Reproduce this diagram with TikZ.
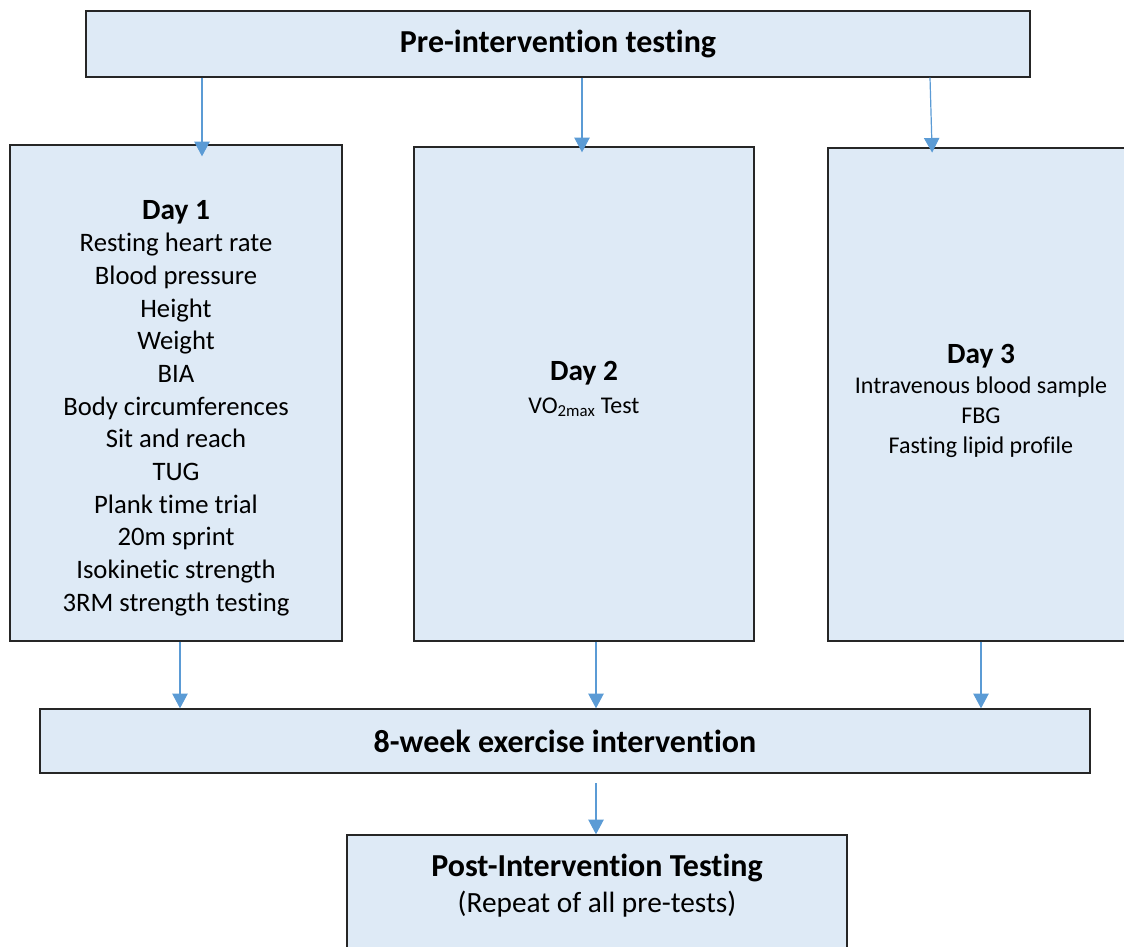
\documentclass[tikz,border=0pt]{standalone}
\usepackage{fontspec}
\setmainfont{Carlito}[Ligatures=NoCommon]
\usetikzlibrary{arrows.meta,fit}
\definecolor{boxfill}{RGB}{222,234,246}
\definecolor{flowblue}{RGB}{91,155,213}
\tikzset{
	box/.style={draw=black!85, line width=1pt, fill=boxfill, inner sep=0pt},
	flow/.style={draw=flowblue, line width=0.9pt, -{Triangle[width=11.5pt,length=11pt]}},
	headtxt/.style={font=\fontsize{24}{29}\selectfont\bfseries, inner sep=0pt},
	daytxt/.style={align=center, inner sep=0pt}
}
\begin{document}
\begin{tikzpicture}[x=0.75pt, y=-0.75pt]
	\useasboundingbox (0,0) rectangle (1124,946);
	% boxes
	\node[box, fit={(86,11) (1030,77)}] (pre) {};
	\node[box, fit={(10,145) (342,641)}] (day1) {};
	\node[box, fit={(414,147) (754,641)}] (day2) {};
	\node[box, fit={(828,148) (1135,641)}] (day3) {};
	\node[box, fit={(40,709) (1090,773)}] (train) {};
	\node[box, fit={(347,835) (847,962)}] (post) {};
	% texts
	\node[headtxt] (pretxt) at (pre.center) {Pre-intervention testing};
	\node[headtxt] (traintxt) at (train.center) {8-week exercise intervention};
	\node[daytxt, font=\fontsize{20}{24.5}\selectfont] (d1txt) at (176,408)
		{{\fontsize{22}{24.5}\selectfont\bfseries Day 1}\\ Resting heart rate\\ Blood pressure\\ Height\\ Weight\\ BIA\\
		Body circumferences\\ Sit and reach\\ TUG\\ Plank time trial\\ 20m sprint\\ Isokinetic strength\\ 3RM strength testing};
	\node[daytxt, font=\fontsize{18}{22}\selectfont] (d2txt) at (584,389)
		{{\fontsize{22}{24}\selectfont\bfseries Day 2}\\[3pt] VO\textsubscript{2max} Test};
	\node[daytxt, font=\fontsize{18}{22.5}\selectfont] (d3txt) at (981,401)
		{{\fontsize{22}{24}\selectfont\bfseries Day 3}\\ Intravenous blood sample\\ FBG\\ Fasting lipid profile};
	\node[daytxt] (posttxt) at (597,886)
		{{\fontsize{24}{29}\selectfont\bfseries Post-Intervention Testing}\\[6pt]
		{\fontsize{22}{26}\selectfont (Repeat of all pre-tests)}};
	% arrows
	\draw[flow, shorten >=-9pt] (202,0 |- pre.south) -- (202,0 |- day1.north);
	\draw[flow, shorten >=-4.5pt] (582,0 |- pre.south) -- (582,0 |- day2.north);
	\draw[flow, shorten >=-4pt] (930,0 |- pre.south) -- (932,0 |- day3.north);
	\draw[flow] (180,0 |- day1.south) -- (180,0 |- train.north);
	\draw[flow] (596,0 |- day2.south) -- (596,0 |- train.north);
	\draw[flow] (981,0 |- day3.south) -- (981,0 |- train.north);
	\draw[flow, shorten <=7pt] (596,0 |- train.south) -- (596,0 |- post.north);
\end{tikzpicture}
\end{document}
